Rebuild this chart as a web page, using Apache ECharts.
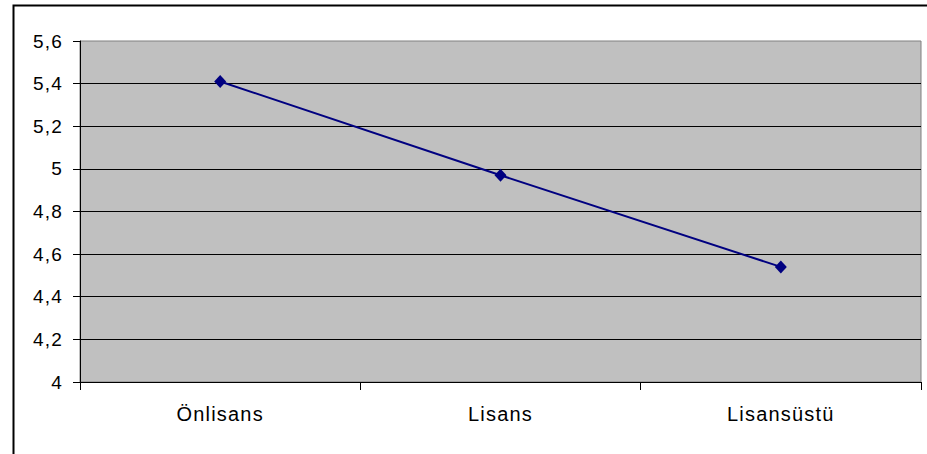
<!DOCTYPE html>
<html>
<head>
<meta charset="utf-8">
<script src="https://cdn.jsdelivr.net/npm/echarts@6/dist/echarts.min.js"></script>
<style>
  html, body { margin: 0; padding: 0; background: #fff; }
  #chart { width: 927px; height: 454px; }
  /* slightly widened letter spacing of the axis text */
  #chart text { letter-spacing: 1.2px; }
</style>
</head>
<body>
<div id="chart"></div>
<script>
// Education level categories and their mean scores
const categories = ['Önlisans', 'Lisans', 'Lisansüstü'];
const scores = [5.41, 4.97, 4.54];

// Value axis range
const yMin = 4;
const yMax = 5.6;
const yStep = 0.2;

const chart = echarts.init(document.getElementById('chart'), null, { renderer: 'svg' });

const fontFamily = '"Liberation Sans", Arial, sans-serif';

chart.setOption({
  animation: false,
  backgroundColor: '#fff',
  graphic: [{
    type: 'rect',
    left: 11, top: 3,
    shape: { x: 0, y: 0, width: 940, height: 470 },
    style: { fill: 'none', stroke: '#000', lineWidth: 2 },
    silent: true,
    z: 100
  }],
  grid: {
    left: 80, top: 41, right: 6, bottom: 72,
    show: true,
    backgroundColor: '#c0c0c0',
    borderColor: '#808080',
    borderWidth: 1
  },
  xAxis: {
    type: 'category',
    data: categories,
    boundaryGap: true,
    axisLine: { lineStyle: { color: '#000', width: 1 } },
    axisTick: { show: true, length: 8, lineStyle: { color: '#000' } },
    axisLabel: { margin: 22, color: '#000', fontFamily: fontFamily, fontSize: 20 },
    splitLine: { show: false }
  },
  yAxis: {
    type: 'value',
    min: yMin,
    max: yMax,
    interval: yStep,
    axisLine: { show: true, lineStyle: { color: '#000', width: 1 } },
    axisTick: { show: true, length: 7, lineStyle: { color: '#000' } },
    axisLabel: {
      margin: 17,
      color: '#000',
      fontFamily: fontFamily,
      fontSize: 19,
      formatter: v => String(+v.toFixed(1)).replace('.', ',')
    },
    splitLine: { show: true, showMaxLine: false, lineStyle: { color: '#000', width: 1 } }
  },
  series: [{
    type: 'line',
    data: scores,
    symbol: 'diamond',
    symbolSize: [12, 13],
    lineStyle: { color: '#000080', width: 2 },
    itemStyle: { color: '#000080' }
  }]
});
</script>
</body>
</html>
